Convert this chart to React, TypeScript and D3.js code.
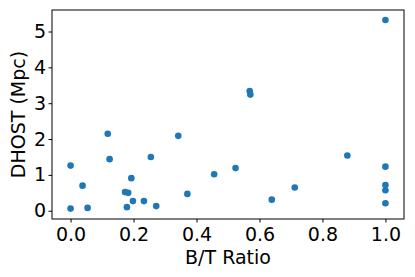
import * as d3 from "d3";
import { useEffect, useRef } from "react";

// B/T ratio vs DHOST
const btRatio = [
  0.0, 0.0, 0.038, 0.054, 0.118, 0.124, 0.173, 0.183, 0.179, 0.193,
  0.198, 0.233, 0.255, 0.272, 0.342, 0.371, 0.456, 0.524, 0.569, 0.571,
  0.639, 0.712, 0.879, 1.0, 1.0, 1.0, 1.0, 1.0,
];
const dhost = [
  1.26, 0.06, 0.7, 0.08, 2.15, 1.44, 0.52, 0.5, 0.1, 0.91,
  0.27, 0.27, 1.5, 0.13, 2.09, 0.47, 1.02, 1.19, 3.34, 3.24,
  0.31, 0.65, 1.54, 5.32, 1.23, 0.72, 0.57, 0.21,
];
const xTicks = [0, 0.2, 0.4, 0.6, 0.8, 1.0];
const yTicks = [0, 1, 2, 3, 4, 5];

const W = 415;
const H = 277;
const margin = { left: 52, right: 11, top: 10, bottom: 58 };

export default function App() {
  const ref = useRef<SVGSVGElement>(null);

  useEffect(() => {
    const svg = d3.select(ref.current);
    svg.selectAll("*").remove();

    const x = d3.scaleLinear().domain([-0.059, 1.059]).range([margin.left, W - margin.right]);
    const y = d3.scaleLinear().domain([-0.23, 5.6]).range([H - margin.bottom, margin.top]);

    const font = "DejaVu Sans, sans-serif";
    const fs = 19;

    // points
    svg
      .append("g")
      .selectAll("circle")
      .data(btRatio)
      .join("circle")
      .attr("cx", (d) => x(d))
      .attr("cy", (d, i) => y(dhost[i]))
      .attr("r", 3.3)
      .attr("fill", "#1f77b4");

    // frame
    svg
      .append("rect")
      .attr("x", margin.left)
      .attr("y", margin.top)
      .attr("width", W - margin.left - margin.right)
      .attr("height", H - margin.top - margin.bottom)
      .attr("fill", "none")
      .attr("stroke", "#000")
      .attr("stroke-width", 1);

    const xAxis = d3
      .axisBottom(x)
      .tickValues(xTicks)
      .tickFormat(d3.format(".1f"))
      .tickSizeOuter(0)
      .tickSize(3.5)
      .tickPadding(5);
    const gx = svg
      .append("g")
      .attr("transform", `translate(0,${H - margin.bottom})`)
      .call(xAxis);
    gx.select(".domain").remove();
    gx.selectAll("text").attr("font-size", fs).attr("font-family", font).attr("fill", "#000");

    const yAxis = d3
      .axisLeft(y)
      .tickValues(yTicks)
      .tickFormat(d3.format("d"))
      .tickSizeOuter(0)
      .tickSize(3.5)
      .tickPadding(2.5);
    const gy = svg
      .append("g")
      .attr("transform", `translate(${margin.left},0)`)
      .call(yAxis);
    gy.select(".domain").remove();
    gy.selectAll("text").attr("font-size", fs).attr("font-family", font).attr("fill", "#000");

    svg
      .append("text")
      .attr("x", (margin.left + W - margin.right) / 2)
      .attr("y", 264)
      .attr("text-anchor", "middle")
      .attr("font-size", fs)
      .attr("font-family", font)
      .text("B/T Ratio");

    svg
      .append("text")
      .attr("transform", `translate(25,${(margin.top + H - margin.bottom) / 2}) rotate(-90)`)
      .attr("text-anchor", "middle")
      .attr("font-size", fs)
      .attr("font-family", font)
      .text("DHOST (Mpc)");
  }, []);

  return (
    <div style={{ position: "absolute", left: 0, top: 0 }}>
      <svg ref={ref} width={W} height={H} />
    </div>
  );
}
